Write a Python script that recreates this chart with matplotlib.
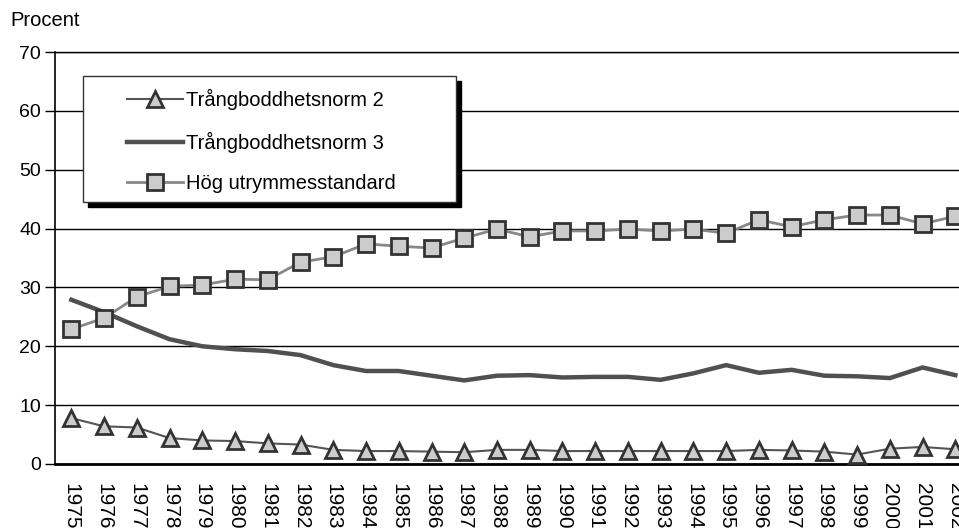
import matplotlib
matplotlib.use('Agg')
import matplotlib.pyplot as plt
from matplotlib.patches import Rectangle

plt.rcParams['font.family'] = ['Liberation Sans', 'DejaVu Sans']

years = [str(y) for y in range(1975, 2003)]
norm2 = [7.8, 6.4, 6.2, 4.4, 4.0, 3.9, 3.5, 3.3, 2.4, 2.2, 2.2, 2.1, 2.0, 2.4,
         2.4, 2.2, 2.2, 2.2, 2.2, 2.2, 2.2, 2.4, 2.3, 2.1, 1.6, 2.6, 2.9, 2.5]
norm3 = [27.9, 25.8, 23.4, 21.2, 20.0, 19.5, 19.2, 18.5, 16.8, 15.8, 15.8, 15.0,
         14.2, 15.0, 15.1, 14.7, 14.8, 14.8, 14.3, 15.4, 16.8, 15.5, 16.0, 15.0,
         14.9, 14.6, 16.4, 15.1]
hog = [22.9, 24.8, 28.4, 30.2, 30.4, 31.4, 31.3, 34.3, 35.2, 37.4, 37.0, 36.7,
       38.4, 39.9, 38.6, 39.6, 39.6, 39.9, 39.6, 39.9, 39.2, 41.5, 40.3, 41.5,
       42.3, 42.3, 40.8, 42.1]
labels = ['Trångboddhetsnorm 2', 'Trångboddhetsnorm 3', 'Hög utrymmesstandard']

fs = 14.5

fig = plt.figure(figsize=(9.59, 5.28), dpi=100)
ax = fig.add_axes([55/959, 64/528, 916.7/959, 412/528])

x = range(len(years))
l1, = ax.plot(x, norm2, color='#555555', lw=1.5, marker='^', ms=11,
              mfc='#cccccc', mec='#333333', mew=2, zorder=4)
l2, = ax.plot(x, norm3, color='#505050', lw=3.2, zorder=3)
l3, = ax.plot(x, hog, color='#888888', lw=2, marker='s', ms=11,
              mfc='#cccccc', mec='#333333', mew=2, zorder=4)

ax.set_xlim(-0.5, len(years) - 0.5)
ax.set_ylim(0, 70)
ax.set_yticks(range(0, 80, 10))
ax.set_xticks(list(x))
ax.set_xticklabels(years, rotation=270, fontsize=15)
ax.tick_params(axis='y', labelsize=14, length=7, width=1, direction='out', pad=3)
ax.tick_params(axis='x', length=0, pad=14)
ax.grid(axis='y', color='black', lw=1)
ax.set_axisbelow(True)
ax.spines['right'].set_visible(False)
ax.spines['top'].set_linewidth(1)
ax.spines['left'].set_linewidth(1.2)
ax.spines['bottom'].set_linewidth(2)

fig.text(10/959, 1 - 20/528, 'Procent', fontsize=fs, va='center', ha='left')

# legend box with black shadow
bx0, bx1 = 0.0305, 0.4374
by0, by1 = 0.636, 0.9417
dx, dy = 5/916.7, 5/412
ax.add_patch(Rectangle((bx0 + dx, by0 - dy), bx1 - bx0, by1 - by0,
                       transform=ax.transAxes, facecolor='black', edgecolor='black',
                       zorder=6))
ax.add_patch(Rectangle((bx0, by0), bx1 - bx0, by1 - by0, transform=ax.transAxes,
                       facecolor='white', edgecolor='#333333', lw=1, zorder=7))
leg = ax.legend([l1, l2, l3], labels, loc='upper left', frameon=False,
                bbox_to_anchor=((127 - 55)/916.7, (464 - 89)/412), fontsize=fs,
                handlelength=2.8, handletextpad=0.15, labelspacing=1.07,
                borderpad=0, borderaxespad=0)
leg.set_zorder(8)

fig.savefig('out.png', dpi=100)
